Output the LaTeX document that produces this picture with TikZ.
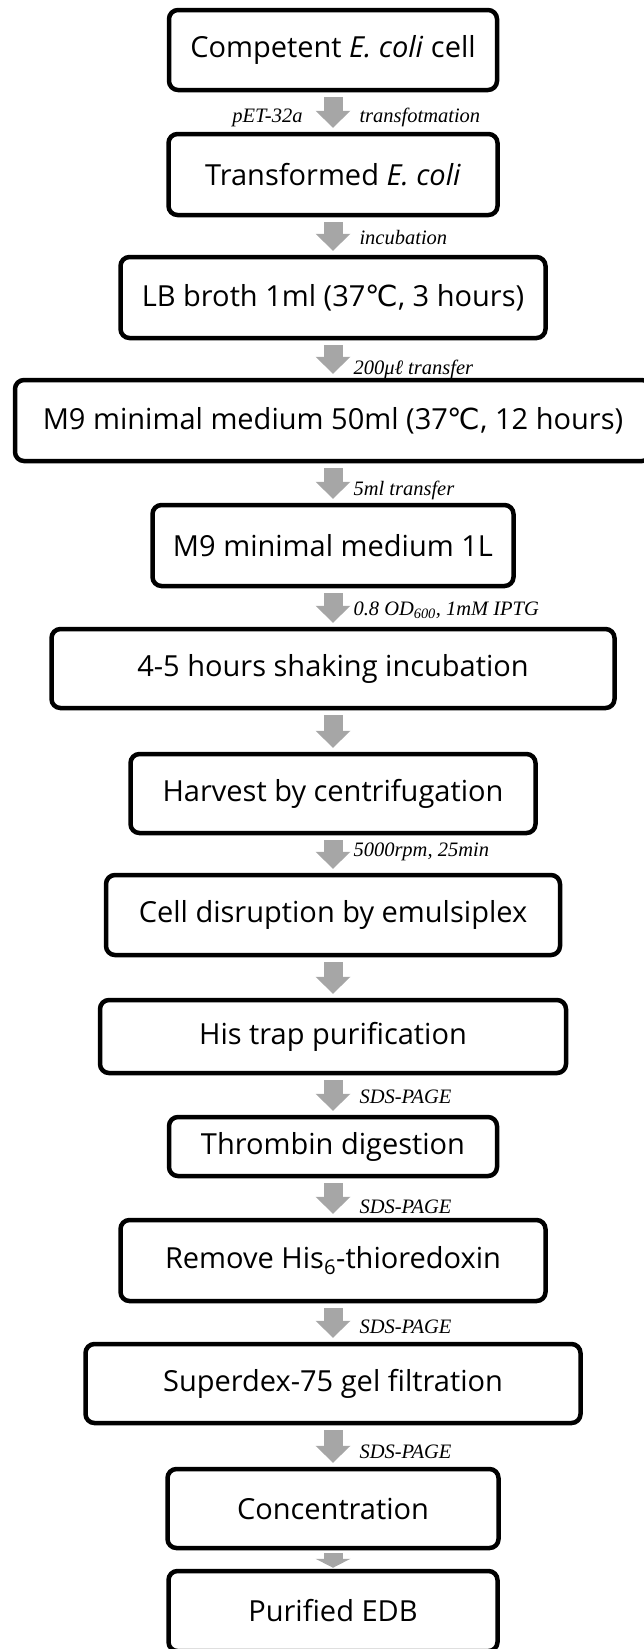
\documentclass[tikz,border=0pt]{standalone}
\usepackage{fontspec}
\setmainfont{Open Sans}
\newfontfamily\labelfont{Liberation Serif}
\newfontfamily\celsiusfont{DejaVu Sans}
\usetikzlibrary{arrows.meta}

\definecolor{arrowgray}{RGB}{166,166,166}
\newcommand{\degc}{{\celsiusfont ℃}}

\begin{document}
\begin{tikzpicture}[x=1pt, y=-1pt,
                    stage/.style={draw, rounded corners=9pt, line width=4.5pt,
                                  font=\fontsize{29}{34}\selectfont, inner sep=0pt},
                    flow/.style={arrowgray, line width=19pt, shorten <=5pt, shorten >=4pt,
                                 -{Triangle[width=35pt, length=17pt, line width=0pt]}},
                    note/.style={font=\labelfont\itshape\fontsize{20.5}{24}\selectfont,
                                 text=black, anchor=west, inner sep=0pt}]

  \useasboundingbox (0,0) rectangle (644,1649);

  % Process steps, top to bottom
  \foreach \name/\y/\w/\h/\txt in {
      competent/50/328/80/{Competent \textit{E. coli} cell},
      transformed/174.5/329/81/{Transformed \textit{E. coli}},
      lbbroth/297.5/425/81/{LB broth 1ml (37\degc, 3 hours)},
      mninefifty/420.5/636/81/{M9 minimal medium 50ml (37\degc, 12 hours)},
      mnineliter/545.5/361/81/{M9 minimal medium 1L},
      shaking/668.5/563/79/{4-5 hours shaking incubation},
      harvest/793.5/405/79/{Harvest by centrifugation},
      disruption/915/454/80/{Cell disruption by emulsiplex},
      histrap/1036.5/466/73/{His trap purification},
      thrombin/1146.5/328/59/{Thrombin digestion},
      remove/1260.5/425/81/{Remove His\textsubscript{6}-thioredoxin},
      superdex/1383.5/495/79/{Superdex-75 gel filtration},
      concentration/1508.5/331/79/{Concentration},
      purified/1611/329/80/{Purified EDB}} {
    \node [stage, minimum width=\w pt, minimum height=\h pt] (\name) at (333,\y) {\txt};
  }

  % Culture
  \draw[flow] (competent) -- node[note, pos=0.65, xshift=17pt] {transfotmation}
                             node[note, pos=0.65, anchor=east, xshift=-21pt] {pET-32a}
              (transformed);
  \draw[flow] (transformed) -- node[note, pos=0.55, xshift=17pt] {incubation} (lbbroth);
  \draw[flow] (lbbroth) -- node[note, pos=0.79, xshift=11pt] {200μℓ transfer} (mninefifty);
  \draw[flow] (mninefifty) -- node[note, pos=0.68, xshift=11pt] {5ml transfer} (mnineliter);
  \draw[flow] (mnineliter) -- node[note, pos=0.56, xshift=11pt]
              {0.8 OD\textsubscript{600}, 1mM IPTG} (shaking);
  \draw[flow] (shaking) -- (harvest);

  % Purification
  \draw[flow] (harvest) -- node[note, pos=0.45, xshift=11pt] {5000rpm, 25min} (disruption);
  \draw[flow] (disruption) -- (histrap);
  \draw[flow] (histrap) -- node[note, pos=0.55, xshift=17pt] {SDS-PAGE} (thrombin);
  \draw[flow] (thrombin) -- node[note, pos=0.72, xshift=17pt] {SDS-PAGE} (remove);
  \draw[flow] (remove) -- node[note, pos=0.6, xshift=17pt] {SDS-PAGE} (superdex);
  \draw[flow] (superdex) -- node[note, pos=0.64, xshift=17pt] {SDS-PAGE} (concentration);
  \draw[flow, shorten <=3pt, shorten >=1pt,
        -{Triangle[width=35pt, length=9pt, line width=0pt]}] (concentration) -- (purified);

\end{tikzpicture}
\end{document}
